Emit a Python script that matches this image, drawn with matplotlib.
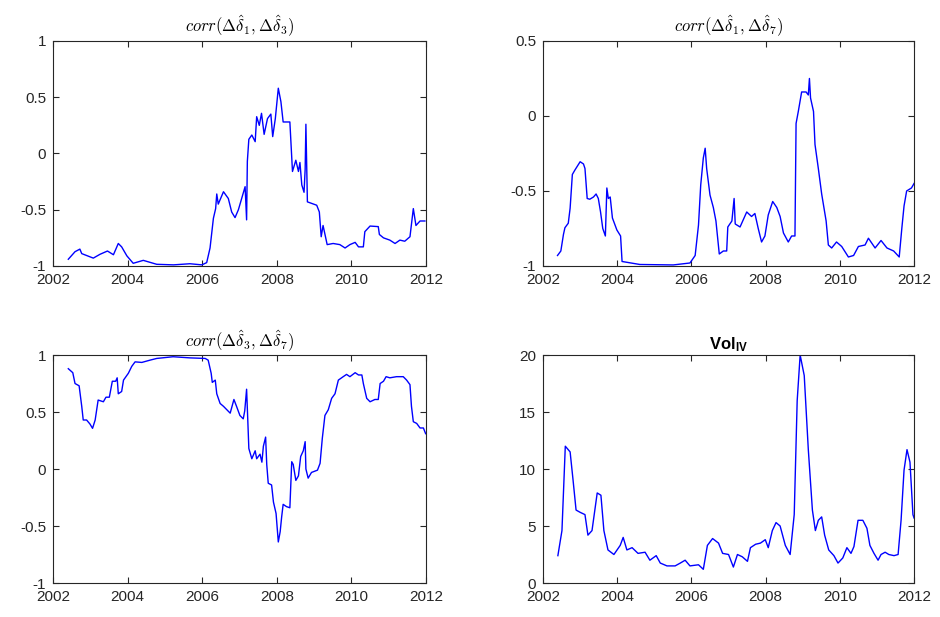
import matplotlib
matplotlib.use("Agg")
import matplotlib.pyplot as plt
from matplotlib.ticker import FuncFormatter

# ---------------- data (decimal year, value) ----------------
t13 = [2002.41, 2002.59, 2002.72, 2002.77, 2003.08, 2003.26, 2003.46, 2003.62, 2003.75, 2003.84,
       2003.98, 2004.15, 2004.42, 2004.78, 2005.23, 2005.67, 2005.99, 2006.12, 2006.21, 2006.30,
       2006.36, 2006.39, 2006.43, 2006.57, 2006.70, 2006.79, 2006.88, 2006.97, 2007.15, 2007.19,
       2007.21, 2007.25, 2007.33, 2007.42, 2007.46, 2007.53, 2007.59, 2007.66, 2007.75, 2007.84,
       2007.89, 2007.96, 2008.04, 2008.11, 2008.17, 2008.35, 2008.42, 2008.51, 2008.58, 2008.62,
       2008.67, 2008.73, 2008.76, 2008.78, 2008.82, 2009.07, 2009.14, 2009.19, 2009.24, 2009.35,
       2009.51, 2009.69, 2009.83, 2009.96, 2010.10, 2010.19, 2010.32, 2010.36, 2010.50, 2010.72,
       2010.75, 2010.86, 2011.03, 2011.17, 2011.30, 2011.43, 2011.57, 2011.66, 2011.73, 2011.84,
       2011.97]
c13 = [-0.94, -0.873, -0.85, -0.89, -0.93, -0.896, -0.867, -0.90, -0.80, -0.83,
       -0.91, -0.976, -0.95, -0.985, -0.99, -0.98, -0.99, -0.97, -0.84, -0.576,
       -0.49, -0.36, -0.45, -0.34, -0.40, -0.52, -0.57, -0.50, -0.295, -0.59,
       -0.07, 0.126, 0.164, 0.105, 0.327, 0.25, 0.357, 0.17, 0.31, 0.35,
       0.15, 0.31, 0.58, 0.46, 0.28, 0.28, -0.16, -0.06, -0.16, -0.08,
       -0.28, -0.345, -0.14, 0.26, -0.43, -0.46, -0.52, -0.74, -0.64, -0.81,
       -0.80, -0.81, -0.84, -0.81, -0.79, -0.83, -0.83, -0.695, -0.645, -0.65,
       -0.72, -0.75, -0.77, -0.80, -0.77, -0.78, -0.74, -0.49, -0.64, -0.60,
       -0.60]

t17 = [2002.39, 2002.48, 2002.55, 2002.59, 2002.68, 2002.73, 2002.79, 2002.86, 2003.00, 2003.09,
       2003.13, 2003.19, 2003.26, 2003.36, 2003.43, 2003.49, 2003.55, 2003.61, 2003.68, 2003.72,
       2003.76, 2003.81, 2003.87, 2003.99, 2004.09, 2004.13, 2004.61, 2005.51, 2005.96, 2006.10,
       2006.19, 2006.25, 2006.32, 2006.37, 2006.41, 2006.50, 2006.59, 2006.66, 2006.75, 2006.86,
       2006.95, 2006.98, 2007.09, 2007.15, 2007.18, 2007.31, 2007.49, 2007.62, 2007.71, 2007.80,
       2007.89, 2007.98, 2008.07, 2008.19, 2008.30, 2008.39, 2008.48, 2008.61, 2008.70, 2008.79,
       2008.82, 2008.88, 2008.97, 2009.09, 2009.15, 2009.18, 2009.21, 2009.29, 2009.33, 2009.42,
       2009.51, 2009.63, 2009.69, 2009.78, 2009.91, 2010.05, 2010.23, 2010.37, 2010.50, 2010.68,
       2010.77, 2010.95, 2011.11, 2011.27, 2011.45, 2011.60, 2011.67, 2011.73, 2011.80, 2011.93,
       2012.00]
c17 = [-0.93, -0.90, -0.79, -0.745, -0.715, -0.615, -0.39, -0.36, -0.305, -0.32,
       -0.35, -0.55, -0.555, -0.54, -0.52, -0.55, -0.64, -0.75, -0.80, -0.48,
       -0.55, -0.54, -0.68, -0.76, -0.80, -0.97, -0.99, -0.993, -0.98, -0.93,
       -0.727, -0.46, -0.28, -0.215, -0.35, -0.527, -0.61, -0.70, -0.92, -0.90,
       -0.90, -0.74, -0.70, -0.55, -0.72, -0.74, -0.64, -0.67, -0.65, -0.75,
       -0.84, -0.80, -0.66, -0.57, -0.61, -0.67, -0.78, -0.84, -0.80, -0.80,
       -0.05, 0.03, 0.16, 0.16, 0.14, 0.25, 0.12, 0.03, -0.19, -0.35,
       -0.52, -0.70, -0.86, -0.88, -0.84, -0.87, -0.94, -0.93, -0.87, -0.86,
       -0.815, -0.88, -0.83, -0.88, -0.90, -0.94, -0.75, -0.60, -0.50, -0.48,
       -0.45]

t37 = [2002.41, 2002.53, 2002.59, 2002.70, 2002.77, 2002.81, 2002.90, 2002.99, 2003.06, 2003.13,
       2003.18, 2003.21, 2003.35, 2003.42, 2003.51, 2003.59, 2003.68, 2003.72, 2003.75, 2003.84,
       2003.89, 2004.02, 2004.11, 2004.20, 2004.38, 2004.60, 2004.78, 2005.22, 2005.67, 2006.08,
       2006.16, 2006.24, 2006.27, 2006.35, 2006.39, 2006.48, 2006.57, 2006.66, 2006.75, 2006.85,
       2006.92, 2007.01, 2007.10, 2007.14, 2007.19, 2007.22, 2007.25, 2007.33, 2007.42, 2007.46,
       2007.55, 2007.60, 2007.64, 2007.70, 2007.73, 2007.77, 2007.86, 2007.91, 2007.98, 2008.04,
       2008.09, 2008.13, 2008.17, 2008.26, 2008.35, 2008.40, 2008.44, 2008.51, 2008.58, 2008.64,
       2008.71, 2008.76, 2008.78, 2008.84, 2008.93, 2009.09, 2009.16, 2009.22, 2009.29, 2009.38,
       2009.47, 2009.56, 2009.65, 2009.78, 2009.87, 2009.96, 2010.10, 2010.19, 2010.28, 2010.32,
       2010.41, 2010.50, 2010.63, 2010.72, 2010.77, 2010.86, 2010.93, 2011.03, 2011.21, 2011.39,
       2011.48, 2011.57, 2011.61, 2011.66, 2011.75, 2011.84, 2011.93, 2011.99]
c37 = [0.88, 0.845, 0.75, 0.73, 0.55, 0.43, 0.43, 0.395, 0.357, 0.43,
       0.54, 0.605, 0.59, 0.63, 0.63, 0.77, 0.77, 0.80, 0.66, 0.68,
       0.78, 0.84, 0.90, 0.94, 0.935, 0.955, 0.97, 0.985, 0.975, 0.97,
       0.955, 0.84, 0.76, 0.78, 0.66, 0.575, 0.55, 0.52, 0.49, 0.61,
       0.55, 0.47, 0.44, 0.51, 0.70, 0.445, 0.18, 0.09, 0.16, 0.09,
       0.13, 0.06, 0.20, 0.28, 0.04, -0.125, -0.14, -0.29, -0.39, -0.64,
       -0.55, -0.42, -0.31, -0.33, -0.34, 0.064, 0.04, -0.10, -0.06, 0.11,
       0.16, 0.24, 0.0, -0.08, -0.03, -0.01, 0.05, 0.27, 0.47, 0.52,
       0.62, 0.66, 0.78, 0.81, 0.83, 0.81, 0.845, 0.825, 0.825, 0.75,
       0.62, 0.59, 0.61, 0.61, 0.75, 0.77, 0.81, 0.80, 0.81, 0.81,
       0.78, 0.74, 0.55, 0.415, 0.40, 0.36, 0.36, 0.31]

tvol = [2002.40, 2002.51, 2002.60, 2002.73, 2002.81, 2002.89, 2003.00, 2003.13, 2003.21, 2003.32,
        2003.46, 2003.56, 2003.64, 2003.75, 2003.91, 2004.08, 2004.16, 2004.26, 2004.40, 2004.56,
        2004.75, 2004.88, 2005.05, 2005.16, 2005.34, 2005.56, 2005.70, 2005.83, 2005.96, 2006.19,
        2006.32, 2006.43, 2006.57, 2006.73, 2006.84, 2007.00, 2007.13, 2007.24, 2007.37, 2007.51,
        2007.59, 2007.73, 2007.86, 2007.99, 2008.07, 2008.18, 2008.28, 2008.39, 2008.53, 2008.66,
        2008.77, 2008.85, 2008.93, 2009.04, 2009.15, 2009.26, 2009.34, 2009.42, 2009.51, 2009.59,
        2009.70, 2009.84, 2009.95, 2010.08, 2010.19, 2010.30, 2010.38, 2010.49, 2010.62, 2010.73,
        2010.81, 2010.92, 2011.03, 2011.11, 2011.22, 2011.32, 2011.46, 2011.57, 2011.65, 2011.73,
        2011.81, 2011.89, 2011.97, 2012.00]
vol = [2.4, 4.6, 12.0, 11.5, 9.0, 6.4, 6.2, 6.0, 4.2, 4.6,
       7.9, 7.7, 4.6, 2.9, 2.5, 3.3, 4.0, 2.9, 3.1, 2.6,
       2.7, 2.0, 2.4, 1.75, 1.5, 1.5, 1.75, 2.0, 1.5, 1.6,
       1.2, 3.3, 3.9, 3.5, 2.6, 2.5, 1.4, 2.5, 2.3, 1.9,
       3.1, 3.4, 3.5, 3.8, 3.1, 4.6, 5.3, 5.0, 3.3, 2.5,
       6.0, 16.0, 20.0, 18.2, 11.7, 6.4, 4.6, 5.5, 5.8, 4.2,
       2.9, 2.4, 1.75, 2.2, 3.1, 2.6, 3.2, 5.5, 5.5, 4.8,
       3.3, 2.6, 2.0, 2.5, 2.7, 2.5, 2.4, 2.5, 5.5, 9.9,
       11.7, 10.6, 6.0, 5.7]

titles = [r'$corr(\Delta\hat{\delta}_1, \Delta\hat{\delta}_3)$',
          r'$corr(\Delta\hat{\delta}_1, \Delta\hat{\delta}_7)$',
          r'$corr(\Delta\hat{\delta}_3, \Delta\hat{\delta}_7)$',
          r'Vol$_{\mathbf{IV}}$']
xticks = [2002, 2004, 2006, 2008, 2010, 2012]

# ---------------- figure ----------------
plt.rcParams['font.family'] = ['Liberation Sans', 'DejaVu Sans']
plt.rcParams['mathtext.rm'] = 'Liberation Sans'
plt.rcParams['mathtext.bf'] = 'Liberation Sans:bold'
plt.rcParams['mathtext.it'] = 'Liberation Sans:italic'

fig = plt.figure(figsize=(9.4, 6.17), dpi=100)
gray = '#262626'
pos = [[0.0564, 0.5689, 0.3968, 0.3647],
       [0.5777, 0.5689, 0.3947, 0.3647],
       [0.0564, 0.0551, 0.3968, 0.3695],
       [0.5777, 0.0551, 0.3947, 0.3695]]
series = [(t13, c13), (t17, c17), (t37, c37), (tvol, vol)]
ylims = [(-1, 1), (-1, 0.5), (-1, 1), (0, 20)]
yticks = [[-1, -0.5, 0, 0.5, 1], [-1, -0.5, 0, 0.5], [-1, -0.5, 0, 0.5, 1], [0, 5, 10, 15, 20]]

for i in range(4):
    ax = fig.add_axes(pos[i])
    t, v = series[i]
    ax.plot(t, v, color=(0, 0, 1), lw=1.0)
    ax.set_xlim(2002, 2012)
    ax.set_ylim(*ylims[i])
    ax.set_xticks(xticks)
    ax.set_yticks(yticks[i])
    ax.yaxis.set_major_formatter(FuncFormatter(lambda x, p: '%g' % x))
    ax.tick_params(direction='in', top=True, right=True, length=4, width=0.8,
                   colors=gray, labelsize=11, pad=5)
    for s in ax.spines.values():
        s.set_color(gray)
        s.set_linewidth(0.8)
    if i < 3:
        ax.set_title(titles[i], fontsize=12, pad=6, math_fontfamily='cm', color='black')
    else:
        ax.set_title(titles[i], fontsize=12, fontweight='bold', pad=4,
                     math_fontfamily='custom', color='black')

fig.savefig('out.png', dpi=100, facecolor='white')
